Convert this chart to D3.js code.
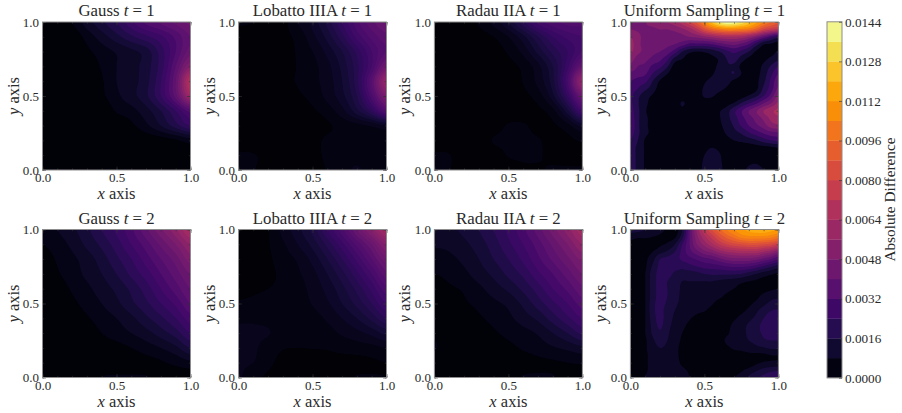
<!DOCTYPE html>
<html>
<head>
<meta charset="utf-8">
<script src="https://cdn.jsdelivr.net/npm/d3@7"></script>
<style>
  body { margin: 0; background: #fff; }
  text { font-family: "Liberation Serif", serif; fill: #2a2a2a; }
</style>
</head>
<body>
<svg id="chart" width="902" height="413"></svg>
<script>
const gaussT1 = [
  [0, 0, 4, 10, 15, 20, 27, 33, 37, 41, 45],
  [0, 0, 1, 5.5, 10, 14.5, 19, 23, 27, 33, 40],
  [0, 0, 0, 3, 6, 8.5, 11, 14, 22, 32, 42],
  [0, 0, 0, 1, 4.5, 8, 10.5, 14, 22, 36, 52],
  [0, 0, 0, 0.5, 3.5, 8, 10.5, 14.5, 24, 40, 68],
  [0, 0, 0, 0, 3, 7, 10.5, 15, 24, 38, 60],
  [0, 0, 0, 0, 0.5, 4.5, 6.5, 10.5, 16, 24, 34],
  [0, 0, 0, 0, 0, 0.5, 3, 7, 12, 18, 24],
  [0, 0, 0, 0, 0, 0, 0, 1, 2, 3.5, 6],
  [0, 0, 0, 0, 0, 0, 0, 0, 0.5, 1, 1.5],
  [0, 0, 0, 0, 0, 0, 0, 0, 0, 0, 0]
];
const lobattoT1 = [
  [3.5, 3, 1.5, 2, 6, 10, 16, 24, 32, 38, 42],
  [1.5, 1, 1, 2, 4, 8, 13, 20, 28, 34, 38],
  [1, 1, 1, 1, 3.5, 6, 10, 15, 22, 30, 36],
  [0.5, 0.5, 0.5, 1.5, 3.2, 5, 8, 13, 20, 30, 44],
  [0.5, 0.5, 0.5, 2.5, 3.2, 5, 7.5, 12, 20, 36, 58],
  [0.5, 0.5, 0.5, 1.5, 2.5, 4, 7, 11, 18, 32, 48],
  [0.5, 0.5, 0.5, 0.5, 1, 2.5, 4.5, 8, 14, 22, 34],
  [0.5, 0.5, 0.5, 0.5, 0.5, 1, 2.5, 4, 5, 6.5, 9],
  [1, 1, 0.8, 0.5, 0.5, 2, 3.5, 3.8, 3.8, 4, 4.5],
  [3.5, 3.2, 2, 0.5, 0.5, 2, 3.5, 4, 4.5, 4, 3.5],
  [3.5, 3.2, 1.5, 0.5, 0.5, 1.5, 3.2, 4.5, 6.5, 4, 3.5]
];
const radauT1 = [
  [0.5, 0.5, 1, 3.5, 7, 12, 20, 28, 32, 34, 34],
  [0, 0, 0.5, 1.5, 3, 6, 11, 18, 24, 28, 30],
  [0, 0, 0, 0.5, 1.5, 3.5, 7, 13, 19, 24, 30],
  [0, 0, 0, 0, 0.8, 2, 3.8, 8, 15, 26, 40],
  [0, 0, 0, 0, 0.5, 1.5, 3.2, 7, 14, 30, 56],
  [0, 0, 0, 0, 0, 1, 2.2, 4.5, 11, 24, 42],
  [0, 0, 0, 0, 0, 1, 1.5, 2.3, 5, 14, 28],
  [0, 0, 0, 0.5, 1.5, 3.3, 3.3, 2.2, 2.5, 5, 10],
  [0.5, 0.5, 0, 1, 3.2, 3.5, 3.5, 3.2, 2.2, 2.2, 3.5],
  [3.5, 3.2, 0.5, 0.8, 1.5, 3.2, 3.5, 3.2, 2.5, 2, 2],
  [3.5, 3.2, 0.5, 0.5, 0.5, 1.5, 2.5, 2.8, 3.2, 3.3, 3.3]
];
const uniformT1 = [
  [44, 46, 48, 50, 52, 56, 60, 68, 78, 90, 106, 122, 136, 144, 142, 134, 124, 114, 104, 96, 90],
  [48, 47, 47, 47, 48, 48, 50, 54, 60, 70, 84, 94, 100, 104, 104, 102, 100, 92, 80, 74, 70],
  [56, 50, 46, 46, 46, 45, 44, 45, 48, 50, 54, 58, 62, 64, 64, 62, 56, 48, 38, 28, 20],
  [60, 50, 46, 44, 44, 42, 40, 36, 30, 30, 30, 32, 36, 40, 42, 38, 32, 20, 9, 7, 5],
  [58, 50, 46, 42, 40, 36, 28, 16, 10, 8, 9, 12, 16, 22, 26, 22, 16, 7, 5, 5, 9],
  [52, 44, 42, 38, 34, 26, 13, 8, 4, 3, 4, 6, 9, 16, 20, 12, 6, 4, 6, 10, 14],
  [46, 40, 38, 30, 26, 17, 4, 1, 1, 1, 2, 5, 10, 15, 14, 6, 3, 4, 10, 17, 24],
  [38, 36, 33, 24, 16, 8, 1, 0, 0, 0, 3, 7, 11, 13, 16, 8, 2, 5, 12, 22, 32],
  [32, 28, 26, 16, 7, 1, 0, 0, 0, 2, 7, 10, 11, 11, 6, 2, 2, 6, 14, 26, 38],
  [28, 24, 18, 12, 4, 0, 0, 0, 1, 4, 9, 11, 10, 7, 3, 1, 2, 6, 18, 28, 42],
  [26, 18, 11, 7, 1, 0, 0, 3, 3, 3, 9, 9, 5, 3, 1, 4, 9, 15, 24, 35, 50],
  [26, 17, 10, 5, 1, 0, 2, 9, 4, 1, 3, 2, 1, 5, 9, 17, 24, 31, 40, 48, 58],
  [28, 18, 9, 4, 1, 0, 1, 5, 1, 0, 0, 0, 7, 12, 22, 31, 40, 47, 56, 62, 66],
  [30, 18, 10, 5, 1, 0, 0, 0, 0, 0, 0, 0, 7, 13, 20, 29, 36, 43, 50, 58, 62],
  [32, 18, 10, 5, 1, 0, 0, 0, 0, 0, 0, 0, 6, 11, 17, 25, 32, 38, 44, 52, 54],
  [28, 18, 10, 6, 1, 0, 0, 0, 0, 0, 0, 0, 4, 9, 13, 17, 23, 28, 33, 37, 38],
  [24, 16, 7, 4, 1, 0, 0, 0, 0, 0, 1, 1, 1, 5, 8, 10, 12, 15, 20, 24, 26],
  [20, 14, 7, 3, 0, 0, 0, 0, 0, 0, 5, 8, 6, 2, 1, 2, 3, 4, 5, 6, 8],
  [20, 14, 7, 2, 0, 0, 0, 0, 0, 1, 8, 11, 9, 3, 0, 0, 0, 1, 1, 2, 3],
  [20, 14, 7, 2, 0, 0, 0, 0, 0, 2, 10, 13, 10, 4, 0, 2, 6, 7, 4, 2, 2],
  [20, 14, 7, 2, 0, 0, 0, 0, 0, 3, 11, 14, 11, 4, 0, 5, 10, 12, 8, 3, 2]
];
const gaussT2 = [
  [6, 8, 11, 15, 20, 25, 31, 39, 47, 55, 65],
  [4, 6, 9, 13, 17, 22, 28, 34, 41, 48, 56],
  [2, 4.5, 7, 10, 14, 19, 24, 30, 36, 42, 50],
  [1, 3.5, 6, 9, 12, 16, 21, 26, 32, 38, 44],
  [0.5, 2, 4.5, 7, 10, 13, 17, 22, 28, 34, 40],
  [0, 1, 3, 5.5, 8, 11, 15, 19, 24, 29, 36],
  [0, 0, 1.5, 3.5, 6, 8, 11, 15, 19, 24, 30],
  [0, 0, 0.5, 1.5, 4, 6, 8, 10.5, 14, 18, 24],
  [0, 0, 0, 0.5, 1.5, 2.5, 4, 6, 8, 11, 16],
  [0, 0, 0, 0, 0.5, 1, 1.5, 2.5, 3.5, 5, 7],
  [0, 0, 0, 0, 4, 4.5, 4.5, 4.2, 3, 1.5, 1]
];
const lobattoT2 = [
  [1.5, 2, 2.8, 7, 11, 16, 24, 32, 42, 52, 62],
  [1.5, 1.5, 2.8, 5.5, 9, 13, 19, 26, 34, 42, 52],
  [1.5, 1.5, 2.5, 4.5, 6.5, 10, 15, 21, 28, 36, 44],
  [2, 2, 2.5, 3.6, 5.5, 8, 12, 17, 23, 30, 38],
  [2.5, 2.7, 3, 3.6, 4.8, 7, 10, 14, 19, 25, 32],
  [3.3, 3.5, 3.8, 4, 4.6, 6.2, 8.5, 12, 16, 21, 27],
  [5.5, 5.5, 5, 4, 4.2, 4.8, 6.5, 9, 12, 16, 21],
  [6.5, 6.5, 6.2, 4.5, 3.8, 4, 4.8, 6.5, 8, 10, 13],
  [6.5, 6.5, 4.5, 3.2, 3, 3.1, 3.3, 4, 4.5, 5, 6],
  [6.5, 6, 3.8, 2, 1.5, 1.5, 1.5, 1.8, 2, 2.5, 3],
  [6.5, 3.8, 2.5, 1.2, 0.5, 1, 1.5, 2.2, 3.2, 3.2, 3]
];
const radauT2 = [
  [9.5, 11, 13, 16, 20, 25, 31, 38, 46, 54, 63],
  [8.5, 9, 11, 14, 18, 23, 28, 34, 41, 48, 56],
  [6, 7, 9, 12, 16, 20, 25, 31, 37, 43, 49],
  [4, 5, 7, 10, 13, 17, 21, 27, 32, 38, 44],
  [2.5, 3.5, 4.5, 7, 10, 13, 17, 22, 28, 33, 39],
  [1.5, 2.5, 3.5, 5, 7, 9, 13, 18, 23, 28, 34],
  [1, 1.5, 2, 3.5, 5, 7, 10, 13, 18, 23, 28],
  [3, 1, 1.5, 2.5, 3.5, 5, 6.5, 8.5, 12, 16, 21],
  [4.5, 1, 1, 1.5, 2, 3, 4.5, 6, 7.5, 9, 11],
  [1, 0.5, 0.5, 0.5, 1, 1.5, 2, 3, 3.5, 4, 4.5],
  [0.5, 0.5, 0.5, 0.5, 0.5, 2, 4.3, 4.5, 4.2, 2.5, 2]
];
const uniformT2 = [
  [15, 14, 12, 10, 8, 5, 3, 12, 36, 56, 72, 84, 94, 102, 108, 112, 116, 118, 118, 116, 114],
  [8, 7, 7, 6, 5, 4, 5, 16, 36, 52, 64, 74, 84, 92, 98, 104, 106, 106, 106, 104, 100],
  [5, 2, 2, 2, 5, 7, 12, 24, 36, 48, 56, 64, 72, 78, 82, 84, 86, 86, 84, 82, 78],
  [4.5, 1.5, 3, 6, 10, 13, 18, 26, 34, 40, 46, 50, 56, 60, 62, 64, 64, 64, 60, 56, 50],
  [4.5, 1, 4.5, 10, 18, 20, 22, 25, 28, 31, 34, 36, 40, 44, 46, 46, 46, 44, 40, 36, 30],
  [4.5, 1, 5, 13, 19.5, 20, 20, 20, 22, 24, 26, 27, 28, 30, 31, 31, 30, 27, 23, 19, 15],
  [4.5, 1, 6, 15, 20, 20, 17, 15, 15, 16, 18, 19, 19, 19, 19, 18, 15, 12, 9, 7, 5],
  [4.5, 1, 6, 15, 20, 18, 15, 12, 12, 12, 12, 12, 11, 10, 9, 7.5, 6, 5, 4, 3, 3],
  [4.5, 1, 6, 15, 20, 18, 15, 11, 10.5, 10, 9, 9, 8, 7.5, 6, 4, 3, 3, 4, 5, 6],
  [4.5, 1, 6, 15, 20, 18, 14, 11, 10, 9, 8, 7.5, 7, 5, 3, 1.5, 2, 4.5, 7.5, 10, 11],
  [4.5, 1, 6, 16, 20, 17, 13, 11, 9, 8, 7.5, 6.5, 4, 2, 1.5, 1.5, 4.5, 7.5, 10.5, 13.5, 14],
  [4.5, 1.5, 6, 16, 20, 15, 12, 10, 8, 7, 6.3, 4, 1.5, 1, 1.5, 4.5, 7.5, 11, 15, 18, 19],
  [4.5, 1.5, 6, 15, 20, 15, 11, 9, 6.5, 4.5, 2, 1, 1, 2, 5, 8, 10.5, 13.5, 18, 21, 22],
  [4.5, 1.5, 6, 14, 19, 14, 10, 7.5, 4.5, 2, 1, 0, 1, 4, 7.5, 10, 13, 16, 20, 23, 24],
  [4.5, 1.5, 6, 13, 17, 13, 9, 6, 3, 1, 0, 0, 1.5, 5, 8, 10.5, 13, 16, 19, 21, 21],
  [4.5, 1.5, 5, 11, 14, 12, 9, 5, 1.5, 0, 0, 0, 3, 7, 8, 10, 12, 14, 17, 18, 18],
  [4.5, 1.5, 5, 10, 12, 11, 8, 4, 1, 0, 0, 0, 1, 4.5, 7, 8, 9, 10.5, 11.5, 13, 13],
  [4, 1, 4.5, 9, 11, 10.5, 7.5, 4.5, 1.5, 0, 0, 0, 0, 1, 2, 3, 4.5, 4.5, 5, 6, 6],
  [4, 1, 4.5, 9, 11, 10.5, 8, 5, 2, 0, 0, 0, 0, 0, 1, 1.5, 2, 5, 6.5, 7, 7.5],
  [3, 1, 4.5, 9, 11, 10.5, 8, 7, 5, 1.5, 0, 0, 0, 0, 1.5, 5, 8, 11, 14, 16, 17],
  [2, 2, 6.5, 9, 11, 11, 9, 7, 6, 2, 0, 0, 0, 2, 6, 9, 13, 17, 20, 23, 25]
];

const methods = ['Gauss', 'Lobatto IIIA', 'Radau IIA', 'Uniform Sampling'];
const times = [1, 2];
const grids = [
  [gaussT1, lobattoT1, radauT1, uniformT1],
  [gaussT2, lobattoT2, radauT2, uniformT2]
];
// each panel got its own contour spacing, only the colour scale is shared
const panelSteps = [
  [4, 3, 3, 8],
  [4, 3, 4, 6]
];
const axisTicks = [0, 0.5, 1];
const minorTicks = [0, 0.1, 0.2, 0.3, 0.4, 0.5, 0.6, 0.7, 0.8, 0.9, 1];
const scaleMax = 144;
const barStep = 8;
const barTicks = ['0.0000', '0.0016', '0.0032', '0.0048', '0.0064', '0.0080', '0.0096', '0.0112', '0.0128', '0.0144'];

const panelLefts = [42.5, 238.5, 434.4, 630.4];
const panelTops = [22, 229.5];
const panelSize = 148;
const spineColor = '#8c8c8c';
const inkColor = '#2a2a2a';
const fineness = 120;  // contour raster per panel side

const svg = d3.select('#chart');
const color = d3.scaleSequential(d3.interpolateInferno).domain([0, scaleMax]);
const bandColor = (lo, step) => color(lo + step / 2);

// catmull-rom through the read values so the bands come out round
function cubic(a, b, c, d, t) {
  return b + 0.5 * t * (c - a + t * (2 * a - 5 * b + 4 * c - d + t * (3 * (b - c) + d - a)));
}
function sampleGrid(rows, size) {
  const n = rows.length;
  const at = (r, c) => rows[Math.max(0, Math.min(n - 1, r))][Math.max(0, Math.min(n - 1, c))];
  const out = new Float64Array(size * size);
  for (let j = 0; j < size; j++) {
    const v = j / (size - 1) * (n - 1);
    const r = Math.min(n - 2, Math.floor(v));
    for (let i = 0; i < size; i++) {
      const u = i / (size - 1) * (n - 1);
      const c = Math.min(n - 2, Math.floor(u));
      const col = [-1, 0, 1, 2].map(k =>
        cubic(at(r - 1, c + k), at(r, c + k), at(r + 1, c + k), at(r + 2, c + k), v - r));
      out[j * size + i] = cubic(col[0], col[1], col[2], col[3], u - c);
    }
  }
  return out;
}

function drawPanel(rows, step, method, t, left, top, id) {
  const x = d3.scaleLinear().domain([0, 1]).range([0, panelSize]);
  const y = d3.scaleLinear().domain([0, 1]).range([panelSize, 0]);

  svg.append('clipPath').attr('id', id)
    .append('rect').attr('x', left).attr('y', top).attr('width', panelSize).attr('height', panelSize);

  const thresholds = d3.range(step, scaleMax, step);
  const contours = d3.contours().size([fineness, fineness]).thresholds(thresholds)(sampleGrid(rows, fineness));
  const path = d3.geoPath(d3.geoTransform({
    point(px, py) {
      this.stream.point(x((px - 0.5) / (fineness - 1)), y(1 - (py - 0.5) / (fineness - 1)));
    }
  }));

  const clip = svg.append('g').attr('clip-path', `url(#${id})`);
  clip.append('rect').attr('x', left).attr('y', top).attr('width', panelSize).attr('height', panelSize)
    .attr('fill', bandColor(0, step));
  clip.append('g').attr('transform', `translate(${left},${top})`)
    .selectAll('path')
    .data(contours.filter(d => d.coordinates.length))
    .join('path')
    .attr('fill', d => bandColor(d.value, step))
    .attr('d', path);

  // spines and inward ticks go above the filled bands
  const frame = svg.append('g').attr('transform', `translate(${left},${top})`);
  const fmt = d3.format('.1f');
  const addTicks = (axis, pos, vals, len, pad) => {
    const a = frame.append('g').attr('transform', pos)
      .call(axis.tickValues(vals).tickSize(-len).tickPadding(pad || 0)
        .tickFormat(pad ? fmt : () => ''));
    a.select('.domain').remove();
    a.selectAll('line').attr('stroke', '#333').attr('stroke-width', 0.6);
    a.selectAll('text').attr('font-size', 13).attr('font-family', 'Liberation Serif').attr('fill', inkColor);
    return a;
  };
  addTicks(d3.axisBottom(x), `translate(0,${panelSize})`, minorTicks, 1.7);
  addTicks(d3.axisTop(x), 'translate(0,0)', minorTicks, 1.7);
  addTicks(d3.axisLeft(y), 'translate(0,0)', minorTicks, 1.7);
  addTicks(d3.axisRight(y), `translate(${panelSize},0)`, minorTicks, 1.7);
  addTicks(d3.axisTop(x), 'translate(0,0)', axisTicks, 3.5);
  addTicks(d3.axisRight(y), `translate(${panelSize},0)`, axisTicks, 3.5);
  addTicks(d3.axisBottom(x), `translate(0,${panelSize})`, axisTicks, 3.5, 3);
  addTicks(d3.axisLeft(y), 'translate(0,0)', axisTicks, 3.5, 3.5);
  frame.append('rect').attr('width', panelSize).attr('height', panelSize)
    .attr('fill', 'none').attr('stroke', spineColor).attr('stroke-width', 1);

  const title = frame.append('text').attr('x', panelSize / 2).attr('y', -6)
    .attr('text-anchor', 'middle').attr('font-size', 16.8);
  title.append('tspan').text(method + ' ');
  title.append('tspan').attr('font-style', 'italic').text('t');
  title.append('tspan').text(' = ' + t);

  const xl = frame.append('text').attr('x', panelSize / 2).attr('y', panelSize + 29)
    .attr('text-anchor', 'middle').attr('font-size', 16.5);
  xl.append('tspan').attr('font-style', 'italic').text('x');
  xl.append('tspan').text(' axis');

  const yl = frame.append('text').attr('transform', `translate(-24,${panelSize / 2}) rotate(-90)`)
    .attr('text-anchor', 'middle').attr('font-size', 16.5);
  yl.append('tspan').attr('font-style', 'italic').text('y');
  yl.append('tspan').text(' axis');
}

grids.forEach((row, r) => {
  row.forEach((rows, c) => {
    drawPanel(rows, panelSteps[r][c], methods[c], times[r], panelLefts[c], panelTops[r], `clip-${r}-${c}`);
  });
});

// colorbar
const barLeft = 827;
const barWidth = 15;
const barTop = 21.8;
const barBottom = 377.8;
const barScale = d3.scaleLinear().domain([0, scaleMax]).range([barBottom, barTop]);
const bar = svg.append('g');
bar.selectAll('rect')
  .data(d3.range(0, scaleMax, barStep))
  .join('rect')
  .attr('x', barLeft)
  .attr('width', barWidth)
  .attr('y', d => barScale(d + barStep))
  .attr('height', d => barScale(d) - barScale(d + barStep) + 0.3)
  .attr('fill', d => bandColor(d, barStep));
bar.append('rect').attr('x', barLeft).attr('y', barTop).attr('width', barWidth).attr('height', barBottom - barTop)
  .attr('fill', 'none').attr('stroke', spineColor).attr('stroke-width', 1);
const barAxis = bar.append('g').attr('transform', `translate(${barLeft + barWidth},0)`)
  .call(d3.axisRight(barScale)
    .tickValues(barTicks.map(s => +s * 1e4))
    .tickSize(-3)
    .tickPadding(3)
    .tickFormat((d, i) => barTicks[i]));
barAxis.select('.domain').remove();
barAxis.selectAll('line').attr('stroke', '#333').attr('stroke-width', 0.6);
barAxis.selectAll('text').attr('font-size', 13.2).attr('font-family', 'Liberation Serif').attr('fill', inkColor);
bar.append('text')
  .attr('transform', `translate(895,199.5) rotate(-90)`)
  .attr('text-anchor', 'middle')
  .attr('font-size', 15.3)
  .text('Absolute Difference');
</script>
</body>
</html>
